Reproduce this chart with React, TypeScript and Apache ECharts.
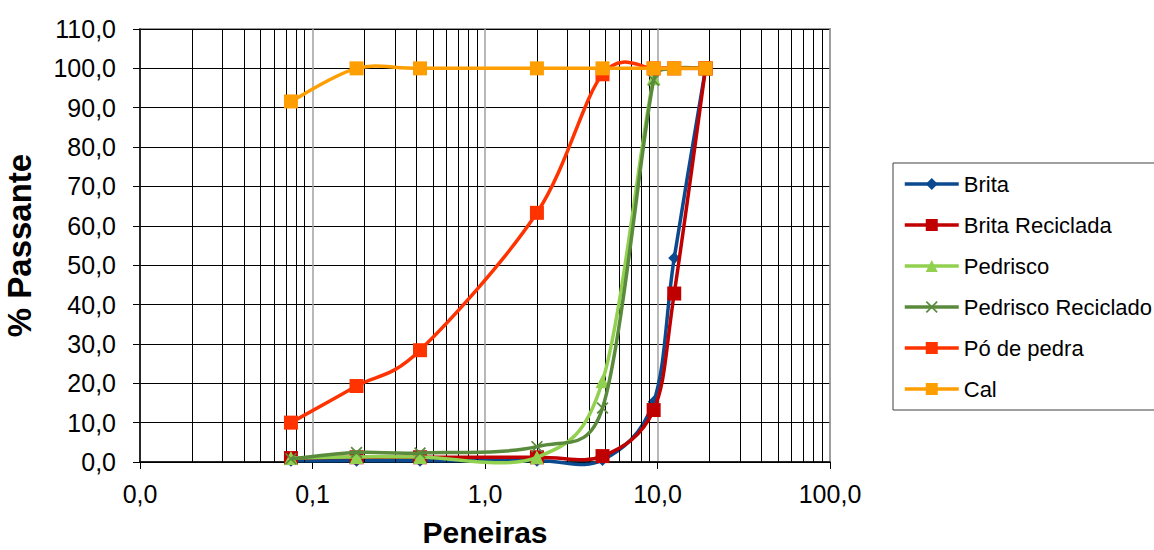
import React, { useEffect, useRef } from "react";
import * as echarts from "echarts";

const sieves = [0.075, 0.18, 0.42, 2.0, 4.8, 9.5, 12.5, 19.0];
const brita = [0.3, 0.3, 0.3, 0.3, 0.5, 15.3, 51.8, 100.0];
const britaReciclada = [1.0, 1.2, 1.2, 1.2, 1.5, 13.2, 42.8, 100.0];
const pedrisco = [1.0, 1.3, 1.3, 1.2, 20.5, 97.5, 100.0, 100.0];
const pedriscoReciclado = [0.8, 2.4, 2.3, 3.9, 13.7, 97.0, 100.0, 100.0];
const poDePedra = [10.0, 19.3, 28.4, 63.3, 98.5, 100.0, 100.0, 100.0];
const cal = [91.6, 100.0, 100.0, 100.0, 100.0, 100.0, 100.0, 100.0];
const yTicks = [0, 10, 20, 30, 40, 50, 60, 70, 80, 90, 100, 110];
const decades = [0.01, 0.1, 1, 10];

const FONT = "Arial, 'Liberation Sans', sans-serif";
const LINE_W = 3.5;
const CAP = 0.6;

const fmt = (v: number) => v.toFixed(1).replace(".", ",");
const pairs = (ys: number[]) => sieves.map((x, i) => [x, ys[i]]);

const crossPath =
  "path://M0,1L1,0L5,4L9,0L10,1L6,5L10,9L9,10L5,6L1,10L0,9L4,5Z";

type Def = {
  name: string;
  ys: number[];
  color: string;
  symbol: string;
  size: number;
};

const defs: Def[] = [
  { name: "Brita", ys: brita, color: "#0B4A8E", symbol: "diamond", size: 12 },
  { name: "Brita Reciclada", ys: britaReciclada, color: "#C00000", symbol: "rect", size: 14 },
  { name: "Pedrisco", ys: pedrisco, color: "#92D050", symbol: "triangle", size: 14 },
  { name: "Pedrisco Reciclado", ys: pedriscoReciclado, color: "#5A8A3C", symbol: crossPath, size: 12 },
  { name: "Pó de pedra", ys: poDePedra, color: "#FF3300", symbol: "rect", size: 14 },
  { name: "Cal", ys: cal, color: "#FF9E00", symbol: "rect", size: 14 },
];

// tangent offset (Catmull-Rom /6), capped relative to segment length
const offset = (a: number[], b: number[], segLen: number) => {
  let tx = (b[0] - a[0]) / 6;
  let ty = (b[1] - a[1]) / 6;
  const len = Math.hypot(tx, ty);
  const max = CAP * segLen;
  if (len > max && len > 0) {
    tx = (tx * max) / len;
    ty = (ty * max) / len;
  }
  return [tx, ty];
};

export default function App() {
  const ref = useRef<HTMLDivElement>(null);
  useEffect(() => {
    document.body.style.margin = "0";
    if (!ref.current) return;
    const chart = echarts.init(ref.current, undefined, { renderer: "svg" });
    const minorLines: { xAxis: number }[] = [];
    decades.forEach((d) => {
      for (let k = 2; k <= 9; k++) minorLines.push({ xAxis: d * k });
    });

    const series: any[] = [
      {
        name: "grid-minor",
        type: "line",
        data: [],
        silent: true,
        z: 1,
        markLine: {
          silent: true,
          symbol: ["none", "none"],
          label: { show: false },
          lineStyle: { color: "#000", width: 1, type: "solid" },
          emphasis: { disabled: true },
          data: minorLines,
        },
      },
    ];

    defs.forEach((d, k) => {
      const n = d.ys.length;
      series.push({
        name: d.name + " (curva)",
        type: "custom",
        coordinateSystem: "cartesian2d",
        data: pairs(d.ys),
        encode: { x: 0, y: 1 },
        silent: true,
        z: 3 + 2 * k,
        renderItem: (params: any, api: any) => {
          const i = params.dataIndex;
          if (i >= n - 1) return { type: "group", children: [] };
          const c = (j: number) => {
            const jj = Math.max(0, Math.min(n - 1, j));
            return api.coord([sieves[jj], d.ys[jj]]);
          };
          const p0 = c(i - 1);
          const p1 = c(i);
          const p2 = c(i + 1);
          const p3 = c(i + 2);
          const seg = Math.hypot(p2[0] - p1[0], p2[1] - p1[1]);
          const t1 = offset(p0, p2, seg);
          const t2 = offset(p1, p3, seg);
          return {
            type: "bezierCurve",
            shape: {
              x1: p1[0],
              y1: p1[1],
              x2: p2[0],
              y2: p2[1],
              cpx1: p1[0] + t1[0],
              cpy1: p1[1] + t1[1],
              cpx2: p2[0] - t2[0],
              cpy2: p2[1] - t2[1],
            },
            style: { stroke: d.color, lineWidth: LINE_W, fill: "none" },
          };
        },
      });
      series.push({
        name: d.name,
        type: "line",
        data: pairs(d.ys),
        symbol: d.symbol,
        symbolSize: d.size,
        lineStyle: { color: d.color, width: LINE_W, opacity: 0 },
        itemStyle: { color: d.color },
        emphasis: { disabled: true },
        z: 4 + 2 * k,
      });
    });

    chart.setOption({
      animation: false,
      textStyle: { fontFamily: FONT },
      grid: {
        left: 140,
        right: 324,
        top: 29,
        bottom: 88,
        outerBoundsMode: "none",
        containLabel: false,
        show: true,
        borderColor: "#999999",
        borderWidth: 2,
        backgroundColor: "transparent",
      },
      legend: {
        orient: "vertical",
        left: 893,
        top: 163,
        padding: [10, 80, 10, 10],
        itemGap: 19,
        itemWidth: 54,
        itemHeight: 15,
        borderColor: "#404040",
        borderWidth: 1,
        textStyle: {
          fontFamily: FONT,
          fontSize: 22,
          lineHeight: 22,
          color: "#000",
        },
        data: defs.map((d) => ({
          name: d.name,
          lineStyle: { color: d.color, width: LINE_W, opacity: 1 },
        })),
      },
      xAxis: {
        type: "log",
        logBase: 10,
        min: 0.01,
        max: 100,
        interval: 1,
        name: "Peneiras",
        nameLocation: "middle",
        nameGap: 55,
        nameTextStyle: {
          fontFamily: FONT,
          fontSize: 30,
          fontWeight: "bold",
          color: "#000",
        },
        axisLine: { show: true, lineStyle: { color: "#000", width: 1.5 } },
        axisTick: { show: true, length: 7, lineStyle: { color: "#000" } },
        axisLabel: {
          formatter: (v: number) => fmt(v),
          fontFamily: FONT,
          fontSize: 25,
          color: "#000",
          margin: 19,
        },
        splitLine: { show: true, lineStyle: { color: "#a0a0a0", width: 1.5 } },
      },
      yAxis: {
        type: "value",
        min: 0,
        max: 110,
        interval: 10,
        name: "% Passante",
        nameLocation: "middle",
        nameGap: 104,
        nameTextStyle: {
          fontFamily: FONT,
          fontSize: 33,
          fontWeight: "bold",
          color: "#000",
        },
        axisLine: { show: true, lineStyle: { color: "#000", width: 1.5 } },
        axisTick: { show: true, length: 7, lineStyle: { color: "#000" } },
        axisLabel: {
          formatter: (v: number) => (yTicks.includes(v) ? fmt(v) : ""),
          fontFamily: FONT,
          fontSize: 25,
          color: "#000",
          margin: 24,
        },
        splitLine: { show: true, lineStyle: { color: "#000", width: 1 } },
      },
      series,
    });
    return () => chart.dispose();
  }, []);
  return <div ref={ref} style={{ width: 1154, height: 550 }} />;
}
